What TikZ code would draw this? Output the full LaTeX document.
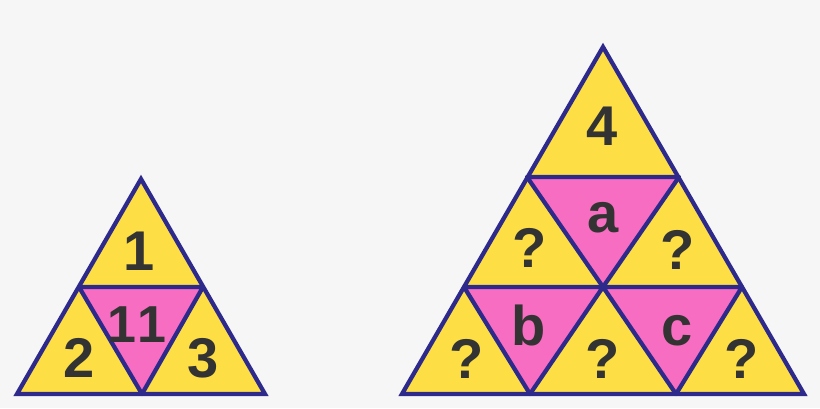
\documentclass[tikz,border=0pt]{standalone}
\usepackage{fontspec}
\setmainfont{Liberation Sans}

\definecolor{bgGray}{HTML}{F6F6F6}
\definecolor{cellYellow}{HTML}{FDDF45}
\definecolor{cellPink}{HTML}{F76DC1}
\definecolor{edgeBlue}{HTML}{2E2A8C}
\definecolor{labelGray}{HTML}{333333}

\tikzset{
  outer cell/.style={draw=edgeBlue, line width=3.2pt, line join=miter},
  down cell/.style={fill=cellPink, draw=edgeBlue, line width=3.2pt, line join=round},
  cell label/.style={anchor=base, inner sep=0pt, text=labelGray, font=\bfseries\fontsize{42}{50}\selectfont},
}

\begin{document}
\begin{tikzpicture}[x=0.75pt,y=0.75pt,yscale=-1,xscale=1]
        \useasboundingbox [fill=bgGray] (0,0) rectangle (820,408);

        % small triangle corners
        \coordinate (sA) at (141,179);
        \coordinate (sB) at (17,394);
        \coordinate (sC) at (265,394);
        \coordinate (sL) at (79,287);
        \coordinate (sR) at (203,287);
        \coordinate (sM) at (142,394);

        % large triangle corners
        \coordinate (A) at (603,47);
        \coordinate (B) at (402,394);
        \coordinate (C) at (804,394);
        \coordinate (r1L) at (527,177);
        \coordinate (r1R) at (679,177);
        \coordinate (r2L) at (464,287);
        \coordinate (r2M) at (603,287);
        \coordinate (r2R) at (742,287);
        \coordinate (b1) at (530,394);
        \coordinate (b2) at (676,394);

        % Small triangle
        \fill [cellYellow] (sA) -- (sB) -- (sC) -- cycle;
        \draw [down cell] (sL) -- (sR) -- (sM) -- cycle;
        \draw [outer cell] (sA) -- (sB) -- (sC) -- cycle;

        % Large triangle
        \fill [cellYellow] (A) -- (B) -- (C) -- cycle;
        \draw [down cell] (r1L) -- (r1R) -- (r2M) -- cycle;
        \draw [down cell] (r2L) -- (r2M) -- (b1) -- cycle;
        \draw [down cell] (r2M) -- (r2R) -- (b2) -- cycle;
        \draw [outer cell] (A) -- (B) -- (C) -- cycle;

        % Text Node
        \node [cell label] (one) at (139,270) {1};
        \node [cell label, font=\bfseries\fontsize{39}{46}\selectfont] (eleven) at (137,342) {1\kern1.5pt1};
        \node [cell label] (two) at (79,377) {2};
        \node [cell label] (three) at (203,377) {3};

        \node [cell label] (four) at (602,145) {4};
        \node [cell label] (la) at (603,232) {a};
        \node [cell label] (qL) at (530,267) {?};
        \node [cell label] (qR) at (678,269) {?};
        \node [cell label] (lb) at (529,345) {b};
        \node [cell label] (lc) at (677,345) {c};
        \node [cell label] (qBL) at (467,378) {?};
        \node [cell label] (qBM) at (603,378) {?};
        \node [cell label] (qBR) at (742,378) {?};
\end{tikzpicture}
\end{document}
